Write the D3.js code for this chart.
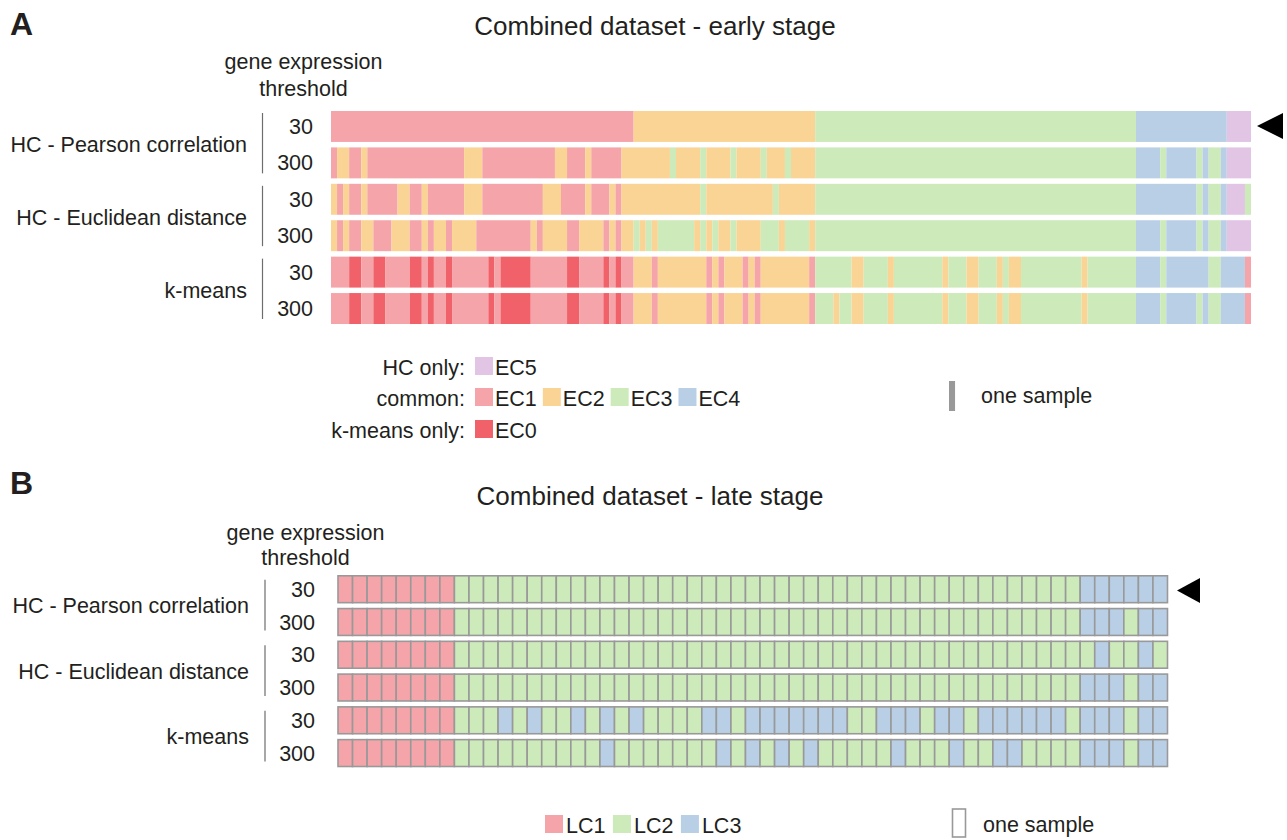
<!DOCTYPE html>
<html>
<head>
<meta charset="utf-8">
<script src="https://cdn.jsdelivr.net/npm/d3@7"></script>
<style>
  body { margin: 0; background: #fff; }
  text { font-family: "Liberation Sans", Arial, sans-serif; fill: #231f20; }
</style>
</head>
<body>
<div id="chart"></div>
<script>
// ---- data ----
var methods = ["HC - Pearson correlation", "HC - Euclidean distance", "k-means"]
var thresholds = ["30", "300"]

// early stage: runs of [cluster, number of samples], 152 samples per row
var earlyClusters = ["EC0", "EC1", "EC2", "EC3", "EC4", "EC5"]
var earlyPearson30 = [[1,50],[2,30],[3,53],[4,15],[5,4]]
var earlyPearson300 = [[1,1],[2,2],[1,2],[2,1],[1,16],[2,3],[1,12],[2,2],[1,3],[2,1],[1,5],[2,8],[3,1],[2,4],[3,1],[2,4],[3,1],[2,4],[3,1],[2,3],[3,1],[2,4],[3,53],[4,4],[3,1],[4,5],[3,1],[4,1],[3,2],[4,1],[5,4]]
var earlyEuclid30 = [[2,1],[1,1],[2,1],[1,2],[2,1],[1,5],[2,2],[1,2],[2,1],[1,6],[2,3],[1,10],[2,3],[1,4],[2,1],[1,3],[2,1],[1,1],[2,13],[3,1],[2,11],[3,1],[2,6],[3,53],[4,10],[3,1],[4,1],[3,2],[4,1],[5,3],[3,1]]
var earlyEuclid300 = [[2,1],[1,1],[2,1],[1,2],[2,2],[1,3],[2,3],[1,2],[2,1],[1,1],[2,2],[1,1],[2,4],[1,9],[2,1],[1,1],[2,4],[1,2],[2,4],[1,1],[2,1],[1,1],[2,2],[3,1],[2,1],[3,1],[2,1],[3,6],[2,1],[3,1],[2,1],[3,1],[2,2],[3,1],[2,4],[3,3],[2,1],[3,4],[2,1],[3,53],[4,4],[3,1],[4,5],[3,1],[4,1],[3,2],[4,1],[5,4]]
var earlyKmeans30 = [[1,3],[0,2],[1,2],[0,2],[1,4],[0,2],[1,1],[0,1],[1,2],[0,1],[1,6],[0,1],[1,1],[0,5],[1,6],[0,2],[1,4],[0,1],[1,1],[0,1],[1,2],[2,3],[1,1],[2,8],[1,1],[2,1],[1,1],[2,3],[1,1],[2,1],[1,1],[2,8],[1,1],[3,6],[2,2],[3,4],[2,1],[3,8],[2,1],[3,3],[2,2],[3,3],[2,1],[3,1],[2,2],[3,10],[2,1],[3,8],[4,4],[3,1],[4,7],[3,2],[4,4],[1,1]]
var earlyKmeans300 = [[1,3],[0,2],[1,2],[0,2],[1,4],[0,2],[1,1],[0,1],[1,2],[0,1],[1,6],[0,1],[1,1],[0,5],[1,6],[0,2],[1,4],[0,1],[1,1],[0,1],[1,2],[2,3],[1,1],[2,8],[1,1],[2,1],[1,1],[2,3],[1,1],[2,1],[1,1],[2,8],[1,1],[3,3],[2,1],[3,2],[2,2],[3,4],[2,1],[3,8],[2,1],[3,3],[2,2],[3,3],[2,1],[3,1],[2,2],[3,10],[2,1],[3,8],[4,4],[3,1],[4,5],[3,1],[4,1],[3,2],[4,4],[1,1]]

// late stage: runs of [cluster, number of samples], 57 samples per row
var lateClusters = ["LC0", "LC1", "LC2", "LC3"]
var latePearson30 = [[1,8],[2,43],[3,6]]
var latePearson300 = [[1,8],[2,43],[3,3],[2,1],[3,2]]
var lateEuclid30 = [[1,8],[2,44],[3,1],[2,2],[3,1],[2,1]]
var lateEuclid300 = [[1,8],[2,43],[3,3],[2,1],[3,2]]
var lateKmeans30 = [[1,8],[2,3],[3,1],[2,1],[3,1],[2,2],[3,1],[2,1],[3,1],[2,1],[3,1],[2,4],[3,2],[2,1],[3,7],[2,2],[3,3],[2,1],[3,2],[2,1],[3,6],[2,1],[3,3],[2,1],[3,2]]
var lateKmeans300 = [[1,8],[2,10],[3,1],[2,7],[3,1],[2,1],[3,1],[2,1],[3,1],[2,1],[3,1],[2,5],[3,1],[2,3],[3,1],[2,2],[3,2],[2,4],[3,3],[2,1],[3,2]]

var earlyRows = [earlyPearson30, earlyPearson300, earlyEuclid30, earlyEuclid300, earlyKmeans30, earlyKmeans300]
var lateRows = [latePearson30, latePearson300, lateEuclid30, lateEuclid300, lateKmeans30, lateKmeans300]

var earlyColors = {EC0: "#f16169", EC1: "#f5a5aa", EC2: "#fad494", EC3: "#cdeabb", EC4: "#b8cfe5", EC5: "#e2c5e5"}
var lateColors = {LC1: "#f5a5aa", LC2: "#cdeabb", LC3: "#b8cfe5"}

var legendEarly = [
    {label: "HC only:", items: ["EC5"]},
    {label: "common:", items: ["EC1", "EC2", "EC3", "EC4"]},
    {label: "k-means only:", items: ["EC0"]}
]
var legendLate = ["LC1", "LC2", "LC3"]

// ---- helpers ----
function runsToSegments(runs, names) {
    var start = 0
    return runs.map(r => {
        var seg = {cluster: names[r[0]], start: start, len: r[1]}
        start += r[1]
        return seg
    })
}
function runsToCells(runs, names) {
    var cells = []
    runs.forEach(r => { for (var k = 0; k < r[1]; k++) cells.push({cluster: names[r[0]], i: cells.length}) })
    return cells
}

var svg = d3.select("#chart").append("svg")
    .attr("width", 1287)
    .attr("height", 840)

var fs = 21.5
var rowIds = d3.range(6)

function rowLabels(yScale, methodX, threshX, lineX, lineTop, lineBottom) {
    methods.forEach((m, mi) => {
        var top = yScale(mi * 2), bottom = yScale(mi * 2 + 1) + yScale.bandwidth()
        svg.append("text").attr("x", methodX).attr("y", (top + bottom) / 2 + 7.5)
            .attr("text-anchor", "end").attr("font-size", fs).text(m)
        svg.append("line").attr("x1", lineX).attr("x2", lineX)
            .attr("y1", top + lineTop).attr("y2", bottom - lineBottom)
            .attr("stroke", "#6d6d6d").attr("stroke-width", 1.2)
        thresholds.forEach((t, ti) => {
            svg.append("text").attr("x", threshX)
                .attr("y", yScale(mi * 2 + ti) + yScale.bandwidth() / 2 + 7.5)
                .attr("text-anchor", "end").attr("font-size", fs).text(t)
        })
    })
}

// ---- panel A ----
svg.append("text").attr("x", 10).attr("y", 35).attr("font-size", 32).attr("font-weight", "bold").text("A")
svg.append("text").attr("x", 655).attr("y", 35).attr("text-anchor", "middle").attr("font-size", 26)
    .text("Combined dataset - early stage")
svg.append("text").attr("x", 303.5).attr("y", 69).attr("text-anchor", "middle").attr("font-size", fs).text("gene expression")
svg.append("text").attr("x", 303.5).attr("y", 96).attr("text-anchor", "middle").attr("font-size", fs).text("threshold")

var nEarly = d3.sum(earlyPearson30, r => r[1])
var xA = d3.scaleLinear().domain([0, nEarly]).range([331, 1251])
var yA = d3.scaleBand().domain(rowIds).range([111, 324]).paddingInner(0.15)

rowLabels(yA, 247, 313, 262.5, 2, 5)

earlyRows.forEach((runs, ri) => {
    svg.append("g").selectAll("rect").data(runsToSegments(runs, earlyClusters))
        .enter().append("rect")
        .attr("x", d => xA(d.start))
        .attr("width", d => xA(d.start + d.len) - xA(d.start))
        .attr("y", yA(ri))
        .attr("height", yA.bandwidth())
        .attr("fill", d => earlyColors[d.cluster])
})

svg.append("path").attr("d", "M1257,126L1283,113L1283,139Z").attr("fill", "#000")

// legend A
var legY = [357, 388, 420]
legendEarly.forEach((grp, gi) => {
    var y = legY[gi]
    svg.append("text").attr("x", 465).attr("y", y + 18).attr("text-anchor", "end").attr("font-size", fs).text(grp.label)
    var x = 475
    grp.items.forEach(name => {
        svg.append("rect").attr("x", x).attr("y", y).attr("width", 18).attr("height", 18).attr("fill", earlyColors[name])
        var t = svg.append("text").attr("x", x + 20).attr("y", y + 18).attr("font-size", fs).text(name)
        x += 20 + t.node().getComputedTextLength() + 6
    })
})
svg.append("rect").attr("x", 949).attr("y", 381).attr("width", xA(1) - xA(0)).attr("height", 30).attr("fill", "#999")
svg.append("text").attr("x", 981).attr("y", 403).attr("font-size", fs).text("one sample")

// ---- panel B ----
svg.append("text").attr("x", 10).attr("y", 494).attr("font-size", 32).attr("font-weight", "bold").text("B")
svg.append("text").attr("x", 650).attr("y", 505).attr("text-anchor", "middle").attr("font-size", 26)
    .text("Combined dataset - late stage")
svg.append("text").attr("x", 305.5).attr("y", 540).attr("text-anchor", "middle").attr("font-size", fs).text("gene expression")
svg.append("text").attr("x", 305.5).attr("y", 565).attr("text-anchor", "middle").attr("font-size", fs).text("threshold")

var nLate = d3.sum(latePearson30, r => r[1])
var xB = d3.scaleLinear().domain([0, nLate]).range([338, 1167.5])
var yB = d3.scaleBand().domain(rowIds).range([575.8, 766.5]).paddingInner(0.18)

rowLabels(yB, 249, 315, 265, 4, 5)

lateRows.forEach((runs, ri) => {
    svg.append("g").selectAll("rect").data(runsToCells(runs, lateClusters))
        .enter().append("rect")
        .attr("x", d => xB(d.i))
        .attr("width", d => xB(d.i + 1) - xB(d.i))
        .attr("y", yB(ri))
        .attr("height", yB.bandwidth())
        .attr("fill", d => lateColors[d.cluster])
        .attr("stroke", "#999")
        .attr("stroke-width", 1.6)
})

svg.append("path").attr("d", "M1177,590.5L1200,578L1200,603Z").attr("fill", "#000")

// legend B
var lx = 545
legendLate.forEach(name => {
    svg.append("rect").attr("x", lx).attr("y", 815).attr("width", 18).attr("height", 18).attr("fill", lateColors[name])
    var t = svg.append("text").attr("x", lx + 21).attr("y", 833).attr("font-size", fs).text(name)
    lx += 21 + t.node().getComputedTextLength() + 7.5
})
svg.append("rect").attr("x", 952.5).attr("y", 809).attr("width", 13).attr("height", 28)
    .attr("fill", "#fff").attr("stroke", "#999").attr("stroke-width", 1.6)
svg.append("text").attr("x", 983).attr("y", 832).attr("font-size", fs).text("one sample")
</script>
</body>
</html>
